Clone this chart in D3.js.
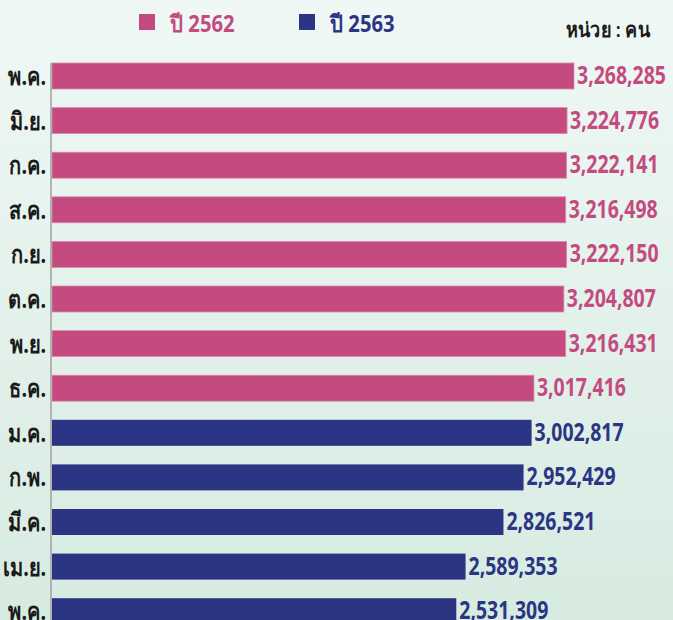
<!DOCTYPE html>
<html>
<head>
<meta charset="utf-8">
<script src="https://cdn.jsdelivr.net/npm/d3@7"></script>
<style>
  body { margin: 0; }
  svg { display: block; }
</style>
</head>
<body>
<svg id="chart" width="673" height="620"></svg>
<script>
// months (พ.ค. 2562 - พ.ค. 2563)
const months = ["พ.ค.", "มิ.ย.", "ก.ค.", "ส.ค.", "ก.ย.", "ต.ค.", "พ.ย.", "ธ.ค.",
                "ม.ค.", "ก.พ.", "มี.ค.", "เม.ย.", "พ.ค. "];
const values2562 = [3268285, 3224776, 3222141, 3216498, 3222150, 3204807, 3216431, 3017416];
const values2563 = [3002817, 2952429, 2826521, 2589353, 2531309];
const seriesNames = ["ปี 2562", "ปี 2563"];
const unitLabel = "หน่วย : คน";

const pink = "#c44a80";
const navy = "#2b3584";

const data = months.map((m, i) => ({
    month: m,
    value: i < values2562.length ? values2562[i] : values2563[i - values2562.length],
    series: i < values2562.length ? 0 : 1
}));

const svg = d3.select("#chart");
const width = +svg.attr("width");
const height = +svg.attr("height");

// background gradient
const defs = svg.append("defs");
const grad = defs.append("linearGradient")
    .attr("id", "bg")
    .attr("x1", 0).attr("y1", 0).attr("x2", 0).attr("y2", 1);
grad.append("stop").attr("offset", "0%").attr("stop-color", "#eff8f5");
grad.append("stop").attr("offset", "100%").attr("stop-color", "#d7ebe1");
svg.append("rect")
    .attr("width", width)
    .attr("height", height)
    .attr("fill", "url(#bg)");

const x = d3.scaleLinear()
    .domain([0, d3.max(data, d => d.value)])
    .range([52, 574]);

const y = d3.scaleBand()
    .domain(months)
    .range([53.7, 633.5])
    .paddingInner(0.417)
    .paddingOuter(0.2085);

const color = d3.scaleOrdinal().domain([0, 1]).range([pink, navy]);

// Bars
svg.selectAll("rect.bar")
    .data(data)
    .enter()
    .append("rect")
    .attr("class", "bar")
    .attr("x", x(0))
    .attr("y", d => y(d.month))
    .attr("width", d => x(d.value) - x(0))
    .attr("height", y.bandwidth())
    .attr("fill", d => color(d.series))
    .attr("stroke", d => d.series === 0 ? "#dc8db0" : "none")
    .attr("stroke-width", 0.8);

// Y axis line
svg.append("line")
    .attr("x1", 51).attr("x2", 51)
    .attr("y1", y(months[0])).attr("y2", height)
    .attr("stroke", "#a0a0a0")
    .attr("stroke-width", 1.5);

// Month labels (condensed look)
svg.selectAll("text.month")
    .data(data)
    .enter()
    .append("text")
    .attr("class", "month")
    .attr("transform", d => `translate(46,${y(d.month) + y.bandwidth() / 2 + 9}) scale(0.8,1)`)
    .attr("text-anchor", "end")
    .style("font-family", "'Noto Sans', sans-serif")
    .style("font-size", "25px")
    .style("font-weight", "bold")
    .style("fill", "#1a1a1a")
    .text(d => d.month.trim());

// Value labels
svg.selectAll("text.value")
    .data(data)
    .enter()
    .append("text")
    .attr("class", "value")
    .attr("x", d => x(d.value) + 3)
    .attr("y", d => y(d.month) + y.bandwidth() / 2 + 8)
    .attr("textLength", 89)
    .attr("lengthAdjust", "spacingAndGlyphs")
    .style("font-family", "'Noto Sans', sans-serif")
    .style("font-size", "25px")
    .style("font-weight", "bold")
    .style("fill", d => color(d.series))
    .text(d => d3.format(",")(d.value));

// Legend
const legendX = [139, 299];
const legend = svg.selectAll("g.legend")
    .data(seriesNames)
    .enter()
    .append("g")
    .attr("class", "legend")
    .attr("transform", (d, i) => `translate(${legendX[i]},0)`);
legend.append("rect")
    .attr("x", 0).attr("y", 14)
    .attr("width", 16).attr("height", 16)
    .attr("fill", (d, i) => color(i));
legend.append("text")
    .attr("transform", "translate(31,32) scale(0.88,1)")
    .style("font-family", "'Noto Sans', sans-serif")
    .style("font-size", "23px")
    .style("font-weight", "bold")
    .style("fill", (d, i) => color(i))
    .text(d => d);

// Unit
svg.append("text")
    .attr("transform", "translate(650,37) scale(0.9,1)")
    .attr("text-anchor", "end")
    .style("font-family", "'Noto Sans', sans-serif")
    .style("font-size", "20px")
    .style("font-weight", "600")
    .style("fill", "#1a1a1a")
    .text(unitLabel);
</script>
</body>
</html>
